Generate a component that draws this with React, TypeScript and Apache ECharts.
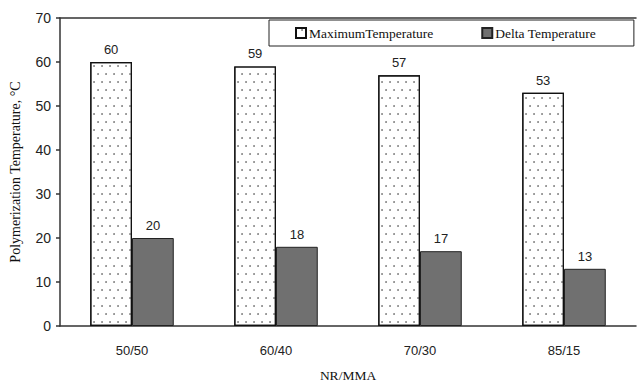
import React, { useEffect, useRef } from "react";
import * as echarts from "echarts";

const categories = ["50/50", "60/40", "70/30", "85/15"];
const maxTemperature = [60, 59, 57, 53];
const deltaTemperature = [20, 18, 17, 13];
const seriesNames = ["MaximumTemperature", "Delta Temperature"];

export default function App() {
  const ref = useRef<HTMLDivElement>(null);
  useEffect(() => {
    if (!ref.current) return;
    const chart = echarts.init(ref.current, null, { renderer: "svg" });
    const sans = "'Liberation Sans', Arial, sans-serif";
    const serif = "'Liberation Serif', 'Times New Roman', serif";
    chart.setOption({
      animation: false,
      backgroundColor: "#fff",
      grid: { left: 60, right: 1, top: 18, bottom: 57, containLabel: false },
      legend: {
        left: 269,
        top: 20,
        width: 500,
        padding: [6, 38, 6, 26],
        itemGap: 48,
        itemWidth: 10,
        itemHeight: 10,
        icon: "rect",
        borderColor: "#222",
        borderWidth: 1,
        textStyle: { fontFamily: serif, fontSize: 13.5, color: "#111", padding: [0, 0, 0, -2] },
        data: seriesNames,
      },
      xAxis: [
        {
          type: "category",
          data: categories,
          name: "NR/MMA",
          nameLocation: "middle",
          nameGap: 42,
          nameTextStyle: { fontFamily: serif, fontSize: 13.5, color: "#111" },
          axisLine: { lineStyle: { color: "#333", width: 1.5 } },
          axisTick: { length: 5, lineStyle: { color: "#333", width: 1.5 } },
          axisLabel: { fontFamily: sans, fontSize: 13, color: "#222", margin: 18 },
        },
        {
          type: "category",
          data: categories,
          position: "top",
          axisLine: { show: true, lineStyle: { color: "#333", width: 1.5 } },
          axisTick: { show: false },
          axisLabel: { show: false },
        },
      ],
      yAxis: {
        type: "value",
        min: 0,
        max: 70,
        interval: 10,
        name: "Polymerization Temperature, °C",
        nameLocation: "middle",
        nameGap: 38,
        nameTextStyle: { fontFamily: serif, fontSize: 14, color: "#111" },
        splitLine: { show: false },
        axisLine: { show: true, lineStyle: { color: "#333", width: 1.5 } },
        axisTick: { show: true, length: 4, lineStyle: { color: "#333", width: 1.5 } },
        axisLabel: { fontFamily: sans, fontSize: 14, color: "#222", margin: 9 },
      },
      series: [
        {
          name: seriesNames[0],
          type: "bar",
          xAxisIndex: 0,
          data: maxTemperature,
          barCategoryGap: "42%",
          barGap: "0%",
          itemStyle: {
            color: "#fff",
            borderColor: "#111",
            borderWidth: 1.2,
            decal: {
              symbol: "circle",
              symbolSize: 0.4,
              dashArrayX: [[4, 4], [0, 4, 4, 0]],
              dashArrayY: [3.5, 3.5],
              color: "#666",
              backgroundColor: "#fff",
            },
          },
          label: {
            show: true,
            position: "top",
            distance: 6,
            fontFamily: sans,
            fontSize: 13,
            color: "#222",
          },
        },
        {
          name: seriesNames[1],
          type: "bar",
          xAxisIndex: 0,
          data: deltaTemperature,
          barCategoryGap: "42%",
          barGap: "0%",
          itemStyle: {
            color: "#707070",
            borderColor: "#222",
            borderWidth: 1,
          },
          label: {
            show: true,
            position: "top",
            distance: 6,
            fontFamily: sans,
            fontSize: 13,
            color: "#222",
          },
        },
      ],
    });
    return () => chart.dispose();
  }, []);
  return <div ref={ref} style={{ width: 637, height: 387, position: "absolute", left: 0, top: 0 }} />;
}
